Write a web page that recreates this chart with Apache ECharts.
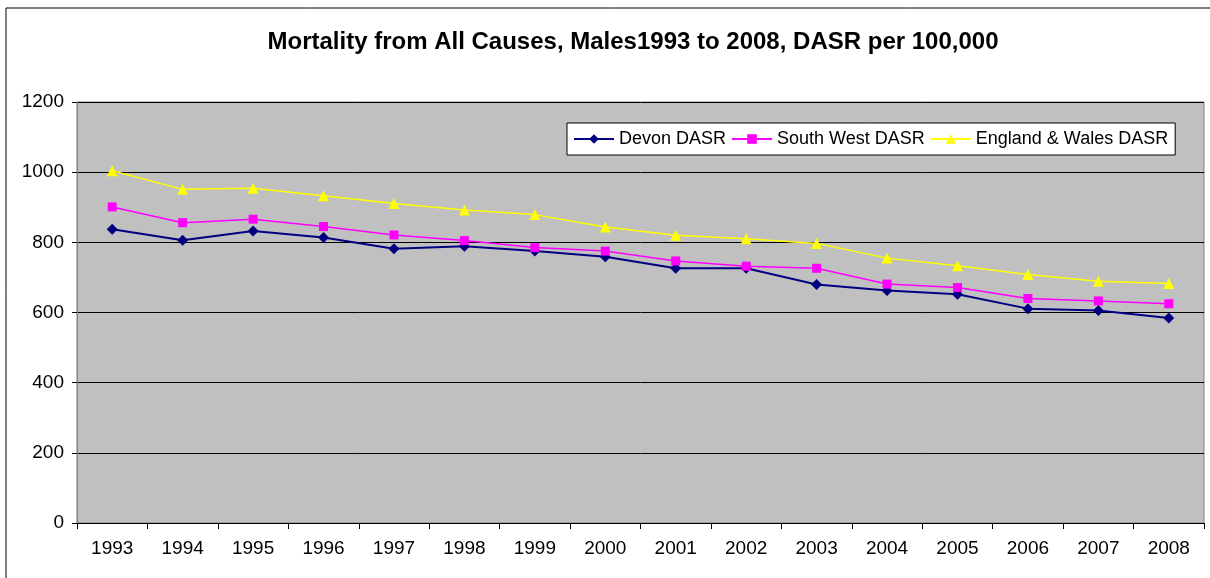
<!DOCTYPE html>
<html>
<head>
<meta charset="utf-8">
<script src="https://cdn.jsdelivr.net/npm/echarts@6/dist/echarts.min.js"></script>
<style>
  html, body { margin: 0; padding: 0; background: #fff; }
  #chart { width: 1210px; height: 578px; }
</style>
</head>
<body>
<div id="chart"></div>
<script>
const years = ['1993', '1994', '1995', '1996', '1997', '1998', '1999', '2000',
               '2001', '2002', '2003', '2004', '2005', '2006', '2007', '2008'];
const devon = [837, 806, 832, 814, 782, 789, 775, 759, 726, 726, 680, 663, 652, 611, 606, 584];
const southWest = [901, 856, 866, 845, 821, 805, 785, 775, 747, 732, 726, 681, 671, 640, 633, 625];
const englandWales = [1004, 951, 954, 933, 911, 892, 879, 844, 820, 810, 797, 755, 733, 708, 689, 683];

const fontFamily = 'Arial, "Liberation Sans", sans-serif';
const chart = echarts.init(document.getElementById('chart'));

const option = {
    animation: false,
    backgroundColor: '#fff',
    textStyle: { fontFamily: fontFamily },
    graphic: [{
        type: 'rect',
        shape: { x: 6, y: 8, width: 1240, height: 600 },
        style: { fill: 'none', stroke: '#000', lineWidth: 1 },
        silent: true
    }],
    title: {
        text: 'Mortality from All Causes, Males1993 to 2008, DASR per 100,000',
        left: 628,
        top: 25,
        textAlign: 'center',
        textStyle: { fontFamily: fontFamily, fontSize: 24, fontWeight: 'bold', color: '#000' }
    },
    legend: {
        left: 567,
        top: 123,
        padding: [7, 7, 7, 6],
        itemWidth: 40,
        itemHeight: 12,
        itemGap: 5,
        backgroundColor: '#fff',
        borderColor: '#000',
        borderWidth: 1,
        textStyle: { fontFamily: fontFamily, fontSize: 18, color: '#000' },
        data: ['Devon DASR', 'South West DASR', 'England & Wales DASR']
    },
    grid: {
        left: 77,
        right: 6,
        top: 102,
        bottom: 55,
        show: true,
        backgroundColor: '#C0C0C0',
        borderColor: '#808080',
        borderWidth: 1
    },
    xAxis: {
        type: 'category',
        data: years,
        boundaryGap: true,
        axisLine: { lineStyle: { color: '#000', width: 1 } },
        axisTick: { show: true, length: 6, lineStyle: { color: '#000' } },
        axisLabel: { color: '#000', fontSize: 19, margin: 16, fontFamily: fontFamily },
        splitLine: { show: false }
    },
    yAxis: {
        type: 'value',
        min: 0,
        max: 1200,
        interval: 200,
        axisLine: { show: true, lineStyle: { color: '#808080', width: 1 } },
        axisTick: { show: true, length: 5, lineStyle: { color: '#000' } },
        axisLabel: {
            color: '#000', fontSize: 19, margin: 13, fontFamily: fontFamily,
            formatter: v => String(v)
        },
        splitLine: { show: true, lineStyle: { color: '#000', width: 1 } }
    },
    series: [
        {
            name: 'Devon DASR',
            type: 'line',
            data: devon,
            symbol: 'diamond',
            symbolSize: 11,
            lineStyle: { color: '#000080', width: 2 },
            itemStyle: { color: '#000080' }
        },
        {
            name: 'South West DASR',
            type: 'line',
            data: southWest,
            symbol: 'rect',
            symbolSize: 9,
            lineStyle: { color: '#FF00FF', width: 1.5 },
            itemStyle: { color: '#FF00FF' }
        },
        {
            name: 'England & Wales DASR',
            type: 'line',
            data: englandWales,
            symbol: 'triangle',
            symbolSize: 11,
            lineStyle: { color: '#FFFF00', width: 1.5 },
            itemStyle: { color: '#FFFF00' }
        }
    ]
};

chart.setOption(option);
</script>
</body>
</html>
